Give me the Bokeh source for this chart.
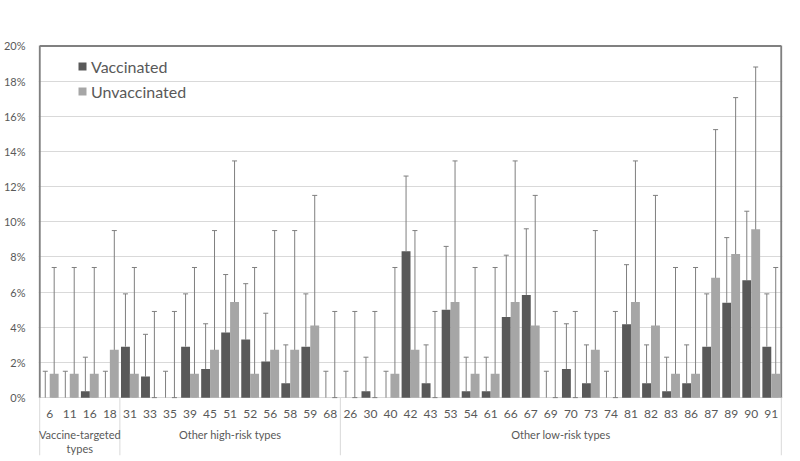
from bokeh.plotting import figure
from bokeh.models import (Range1d, FixedTicker, ColumnDataSource, Whisker, TeeHead,
                          Legend, LegendItem)
from bokeh.core.properties import value
from bokeh.embed import file_html
from bokeh.resources import INLINE

# ---------------- data ----------------
hpv_types = ["6", "11", "16", "18",
             "31", "33", "35", "39", "45", "51", "52", "56", "58", "59", "68",
             "26", "30", "40", "42", "43", "53", "54", "61", "66", "67", "69", "70",
             "73", "74", "81", "82", "83", "86", "87", "89", "90", "91"]

group_names = ["Vaccine-targeted types", "Other high-risk types", "Other low-risk types"]
group_sizes = [4, 11, 22]

vaccinated = [0, 0, 0.36, 0,
              2.9, 1.2, 0, 2.9, 1.63, 3.7, 3.3, 2.05, 0.82, 2.9, 0,
              0, 0.36, 0, 8.33, 0.82, 5.0, 0.36, 0.36, 4.59, 5.84, 0, 1.63,
              0.82, 0, 4.17, 0.82, 0.36, 0.82, 2.9, 5.4, 6.67, 2.9]
vaccinated_upper = [1.5, 1.5, 2.3, 1.5,
                    5.9, 3.6, 1.5, 5.9, 4.2, 7.0, 6.48, 4.8, 3.0, 5.9, 1.5,
                    1.5, 2.3, 1.5, 12.6, 3.0, 8.6, 2.3, 2.3, 8.1, 9.6, 1.5, 4.2,
                    3.0, 1.5, 7.56, 3.0, 2.3, 3.0, 5.9, 9.1, 10.6, 5.9]

unvaccinated = [1.36, 1.36, 1.36, 2.72,
                1.36, 0, 0, 1.36, 2.72, 5.44, 1.36, 2.72, 2.72, 4.1, 0,
                0, 0, 1.36, 2.72, 0, 5.44, 1.36, 1.36, 5.44, 4.1, 0, 0,
                2.72, 0, 5.44, 4.1, 1.36, 1.36, 6.82, 8.17, 9.57, 1.36]
unvaccinated_lower = [0.05, 0.05, 0.05, 0.33,
                      0.05, 0, 0, 0.05, 0.33, 1.5, 0.05, 0.33, 0.33, 0.83, 0,
                      0, 0, 0.05, 0.33, 0, 1.5, 0.05, 0.05, 1.5, 0.83, 0, 0,
                      0.33, 0, 1.5, 0.83, 0.05, 0.05, 2.2, 3.0, 3.9, 0.05]
unvaccinated_upper = [7.4, 7.4, 7.4, 9.5,
                      7.4, 4.9, 4.9, 7.4, 9.5, 13.46, 7.4, 9.5, 9.5, 11.5, 4.9,
                      4.9, 4.9, 7.4, 9.5, 4.9, 13.46, 7.4, 7.4, 13.46, 11.5, 4.9, 4.9,
                      9.5, 4.9, 13.46, 11.5, 7.4, 7.4, 15.24, 17.06, 18.8, 7.4]

y_ticks = [0, 2, 4, 6, 8, 10, 12, 14, 16, 18, 20]

# ---------------- styling ----------------
DARK = "#595959"
LIGHT = "#a6a6a6"
WHISK = "#7f7f7f"
TEXT = "#595959"
FONT = "Lato"

n = len(hpv_types)
idx = list(range(n))
off = 0.222
bw = 0.444

Y_BOTTOM = -3.29
Y_TOP = 20.08

p = figure(width=784, height=458, output_backend="svg", toolbar_location=None,
           x_range=Range1d(-0.56, n - 0.44), y_range=Range1d(Y_BOTTOM, Y_TOP),
           x_axis_type=None, min_border_left=29, min_border_right=2,
           min_border_top=44, min_border_bottom=3, background_fill_color="white",
           border_fill_color="white")
p.outline_line_color = None

# y axis
p.yaxis.ticker = FixedTicker(ticks=y_ticks)
p.yaxis.major_label_overrides = {t: f"{t}%" for t in y_ticks}
p.yaxis.axis_line_color = None
p.yaxis.major_tick_line_color = None
p.yaxis.minor_tick_line_color = None
p.yaxis.major_label_standoff = 7
p.yaxis.major_label_text_font = FONT
p.yaxis.major_label_text_font_size = "11px"
p.yaxis.major_label_text_color = TEXT
p.ygrid.ticker = FixedTicker(ticks=y_ticks)
p.ygrid.grid_line_color = "#d9d9d9"
p.ygrid.grid_line_width = 1

src = ColumnDataSource(dict(
    xv=[i - off for i in idx], xu=[i + off for i in idx],
    vac=vaccinated, vac_up=vaccinated_upper,
    unv=unvaccinated, unv_lo=unvaccinated_lower, unv_up=unvaccinated_upper,
))

r_v = p.vbar(x="xv", top="vac", bottom=0, width=bw, source=src,
             fill_color=DARK, line_color=None)
r_u = p.vbar(x="xu", top="unv", bottom=0, width=bw, source=src,
             fill_color=LIGHT, line_color=None)

w_v = Whisker(source=src, base="xv", lower="vac", upper="vac_up",
              line_color=WHISK, line_width=1,
              upper_head=TeeHead(size=5, line_color=WHISK, line_width=1),
              lower_head=None)
w_u = Whisker(source=src, base="xu", lower="unv_lo", upper="unv_up",
              line_color=WHISK, line_width=1,
              upper_head=TeeHead(size=5, line_color=WHISK, line_width=1),
              lower_head=TeeHead(size=5, line_color=WHISK, line_width=1))
p.add_layout(w_v)
p.add_layout(w_u)

# plot-area frame (top, left, right)
left_edge = -0.5
right_edge = n - 0.5
p.segment(x0=[left_edge, left_edge, right_edge], y0=[20, 0, 0],
          x1=[right_edge, left_edge, right_edge], y1=[20, 20, 20],
          line_color="#808080", line_width=2)

# category labels
p.text(x=idx, y=[-0.93] * n, text=hpv_types, text_align="center",
       text_baseline="middle", text_font=value(FONT), text_font_size="12px",
       text_color=TEXT)

# group separators and labels
bounds = [left_edge]
acc = left_edge
for s in group_sizes:
    acc += s
    bounds.append(acc)
p.segment(x0=bounds, y0=[0] * len(bounds), x1=bounds, y1=[Y_BOTTOM] * len(bounds),
          line_color="#d9d9d9", line_width=1)

centers = [(bounds[k] + bounds[k + 1]) / 2 for k in range(len(group_sizes))]
# first group label wraps on two lines as in the original
p.text(x=[centers[0], centers[0]], y=[-2.1, -2.9],
       text=["Vaccine-targeted", "types"], text_align="center",
       text_baseline="middle", text_font=value(FONT), text_font_size="11px",
       text_color=TEXT)
p.text(x=centers[1:], y=[-2.1] * 2, text=group_names[1:], text_align="center",
       text_baseline="middle", text_font=value(FONT), text_font_size="11px",
       text_color=TEXT)

legend = Legend(items=[LegendItem(label="Vaccinated", renderers=[r_v]),
                       LegendItem(label="Unvaccinated", renderers=[r_u])],
                location=(39, 354), orientation="vertical", padding=0, spacing=5,
                margin=0, glyph_width=10, glyph_height=10, label_standoff=4,
                label_height=20, label_text_font=FONT, label_text_font_size="16px",
                label_text_color=TEXT, background_fill_alpha=0,
                border_line_color=None)
p.add_layout(legend, "center")

open("out.html", "w").write(file_html(p, INLINE))
